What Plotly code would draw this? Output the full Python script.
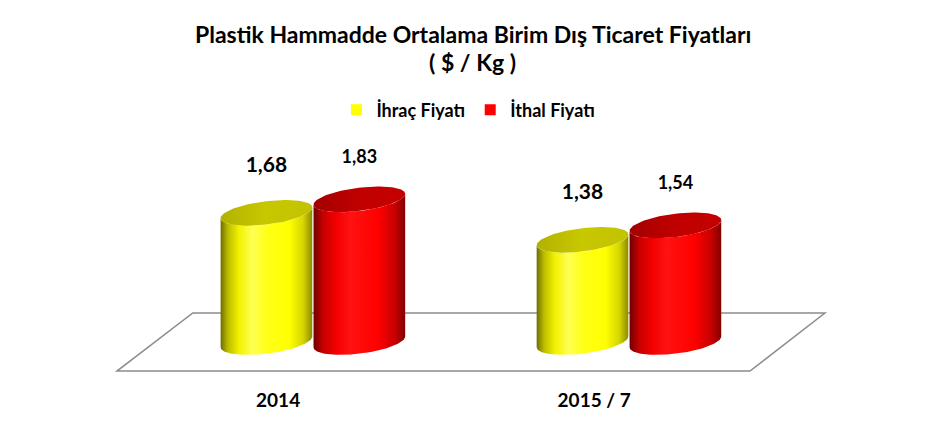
import numpy as np
import plotly.graph_objects as go

# ---------------- data ----------------
categories = ["2014", "2015 / 7"]
series_names = ["İhraç Fiyatı", "İthal Fiyatı"]
ihrac_values = [1.68, 1.38]
ithal_values = [1.83, 1.54]
title_lines = ["Plastik Hammadde Ortalama Birim Dış Ticaret Fiyatları", "( $ / Kg )"]

# ---------------- style ----------------
FONT = "Lato"
BASE = 0.245          # floor level (value units) where cylinders stand
HW = 0.145            # cylinder half width (category units)
HH = 0.13             # ellipse half height (value units)
SH = 0.06             # ellipse tilt (value units)
OFFSETS = [-0.147, 0.147]
LABEL_OFF = [0.515, 0.45]
LABEL_SIZE = [21, 18]
LABEL_SHIFT = -0.11   # category label shift (perspective)
PLOT_H = 385

body_scales = [
    [[0, "#6e6e00"], [0.08, "#bcbc00"], [0.2, "#f2f200"], [0.35, "#ffff55"],
     [0.5, "#ffff18"], [0.75, "#ffff00"], [0.9, "#d6d600"], [1, "#8a8a00"]],
    [[0, "#700000"], [0.1, "#c40000"], [0.25, "#f40000"], [0.4, "#ff1212"],
     [0.7, "#ff0000"], [0.88, "#cc0000"], [1, "#840000"]],
]
top_scales = [
    [[0, "#b2b200"], [0.5, "#c8c800"], [1, "#c2c200"]],
    [[0, "#a40000"], [0.5, "#c00000"], [1, "#c60000"]],
]
legend_colors = ["#ffff00", "#ff0000"]


def ell(xc, yc, t):
    return xc + HW * np.cos(t), yc + HH * np.sin(t) + SH * np.cos(t)


fig = go.Figure()

series_values = [ihrac_values, ithal_values]
xpos = np.arange(len(categories))
n = len(categories)

# floor (parallelogram)
FLOOR_BACK = 0.567
FLOOR_FRONT = -0.078
fx = [-0.38, (n - 1) + 0.62, (n - 1) + 0.383, -0.62]
fy = [FLOOR_BACK, FLOOR_BACK, FLOOR_FRONT, FLOOR_FRONT]
path = "M {} {} L {} {} L {} {} L {} {} Z".format(fx[0], fy[0], fx[1], fy[1], fx[2], fy[2], fx[3], fy[3])
fig.add_shape(type="path", path=path, xref="x", yref="y", layer="below",
              line=dict(color="#8c8c8c", width=1.5), fillcolor="white")

for ci in range(n):
    for si, vals in enumerate(series_values):
        xc = xpos[ci] + OFFSETS[si]
        v = vals[ci]
        tb = np.linspace(np.pi, 2 * np.pi, 80)
        bx, by = ell(xc, BASE, tb)
        tt = np.linspace(2 * np.pi, np.pi, 80)
        tx, ty = ell(xc, v, tt)
        x = np.concatenate([bx, tx, bx[:1]])
        y = np.concatenate([by, ty, by[:1]])
        fig.add_trace(go.Scatter(
            x=x, y=y, mode="lines", line=dict(width=0), fill="toself",
            fillgradient=dict(type="horizontal", colorscale=body_scales[si]),
            hoverinfo="skip", showlegend=False))
        ta = np.linspace(0, 2 * np.pi, 120)
        ex, ey = ell(xc, v, ta)
        fig.add_trace(go.Scatter(
            x=ex, y=ey, mode="lines", line=dict(width=0), fill="toself",
            fillgradient=dict(type="horizontal", colorscale=top_scales[si]),
            hoverinfo="skip", showlegend=False))

# data labels
for si, vals in enumerate(series_values):
    fig.add_trace(go.Scatter(
        x=[xpos[i] + OFFSETS[si] for i in range(n)],
        y=[vals[i] + LABEL_OFF[si] for i in range(n)],
        mode="text",
        text=[f"{v:.2f}".replace(".", ",") for v in vals],
        textposition="middle center",
        textfont=dict(family=FONT, size=LABEL_SIZE[si], color="black", weight="bold"),
        hoverinfo="skip", showlegend=False))

# legend entries
for si, name in enumerate(series_names):
    fig.add_trace(go.Scatter(
        x=[None], y=[None], mode="markers", name=name,
        marker=dict(symbol="square", size=11, color=legend_colors[si])))

# title (two lines)
for text, py in zip(title_lines, [34, 62]):
    fig.add_annotation(text=text, xref="paper", yref="paper", x=0.5, y=1 - py / PLOT_H,
                       xanchor="center", yanchor="middle", showarrow=False,
                       font=dict(family=FONT, size=23, color="black", weight="bold"))

fig.update_layout(
    width=945, height=426,
    margin=dict(l=0, r=0, t=0, b=426 - PLOT_H),
    paper_bgcolor="white", plot_bgcolor="white",
    legend=dict(orientation="h", x=0.356, xanchor="left", y=1 - 110 / PLOT_H, yanchor="middle",
                font=dict(family=FONT, size=18, color="black", weight="bold"),
                bgcolor="rgba(0,0,0,0)"),
    xaxis=dict(range=[-0.99, 2.0], showgrid=False, zeroline=False, showline=False,
               tickvals=[i + LABEL_SHIFT for i in range(n)], ticktext=categories,
               tickfont=dict(family=FONT, size=19, color="black", weight="bold"),
               ticks="", ticklabelstandoff=2, fixedrange=True),
    yaxis=dict(range=[-0.233, 4.044], visible=False, fixedrange=True),
)

fig.write_html("out.html")
